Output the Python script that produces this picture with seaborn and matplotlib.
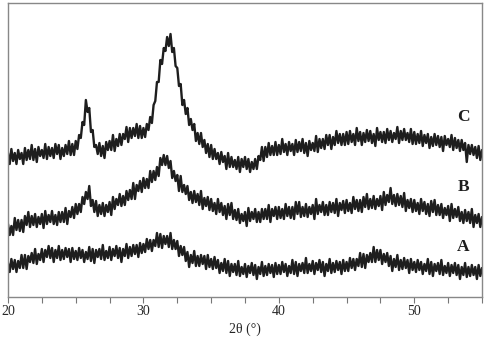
import numpy as np
import pandas as pd
import matplotlib
matplotlib.use("Agg")
import matplotlib.pyplot as plt
import seaborn as sns

# Intensities (arbitrary units, traces offset) read at 20.00, 20.25, ..., 55.00 deg
C = [144,148,144,147,144,149,147,152,148,150,147,153,150,149,153,152,149,152,156,153,
     156,162,175,197,189,167,152,154,151,155,156,162,158,163,163,170,169,169,173,171,
     169,173,180,192,215,237,249,260,263,249,229,213,197,189,178,173,164,164,157,153,
     152,148,144,145,141,144,140,137,140,138,140,138,135,138,141,150,150,154,151,155,
     152,158,153,155,153,157,155,158,154,156,154,161,158,158,162,162,160,166,163,163,
     165,166,163,169,165,164,167,166,163,169,165,165,168,166,164,170,166,168,164,168,
     165,163,166,162,163,160,163,161,160,161,158,162,159,157,157,154,152,152,150,151,
     147]
B = [73,71,79,77,77,81,85,81,83,80,83,86,82,86,82,85,85,89,86,90,
     93,93,100,105,111,97,96,92,94,92,95,100,98,103,101,106,107,114,112,116,
     119,118,126,126,130,139,142,141,136,126,122,121,112,111,105,106,103,106,99,100,
     98,94,98,94,91,93,94,87,88,83,85,89,85,88,85,88,88,92,88,90,
     90,88,93,90,90,95,95,90,93,90,92,98,92,95,92,95,94,98,94,96,
     97,94,100,97,97,100,103,98,101,98,101,105,102,109,102,103,101,104,97,98,
     97,94,98,95,93,96,97,92,93,89,91,93,88,90,85,87,85,88,82,83,
     80]
A = [34,38,37,36,42,42,41,44,48,43,48,47,51,49,47,51,47,49,48,49,
     46,49,47,45,50,48,47,48,52,46,50,48,51,49,48,53,50,52,52,54,
     53,58,57,57,64,63,61,61,64,57,56,51,50,45,42,46,41,42,41,42,
     38,40,37,34,38,36,33,33,36,30,33,31,34,32,30,35,31,33,32,34,
     32,35,33,31,37,35,33,34,39,33,36,34,37,35,33,38,34,36,35,37,
     35,39,38,38,44,43,42,44,50,47,47,43,44,41,38,42,37,39,37,38,
     35,37,35,33,38,35,33,34,37,31,34,32,34,32,30,34,30,32,30,32,
     29]
# ... and at the in-between angles 20.125, 20.375, ..., 54.875 deg
C_mid = [133,136,133,138,133,137,138,137,135,141,139,138,141,139,143,138,141,143,142,142,
         148,159,172,185,165,150,143,141,139,147,147,146,151,152,158,155,159,161,159,159,
         160,167,174,196,215,233,246,251,245,231,211,192,183,172,167,156,153,150,144,140,
         138,138,133,135,128,130,130,128,125,130,128,125,128,128,137,136,140,142,142,142,
         143,145,142,146,142,145,146,144,141,147,146,145,149,148,152,148,152,154,152,152,
         153,155,152,156,152,155,156,154,151,157,155,154,157,155,158,154,157,157,155,153,
         153,154,151,154,149,151,152,150,146,152,150,147,149,146,147,135,143,142,139,137]
B_mid = [62,62,67,66,65,72,70,72,70,73,69,73,75,73,72,75,75,73,80,79,
         83,85,93,98,91,85,81,83,81,85,82,88,92,91,92,97,98,98,106,105,
         109,109,115,117,121,132,132,129,119,116,106,105,103,97,94,95,92,88,91,87,
         86,83,85,82,78,82,78,77,74,76,71,76,78,75,75,78,78,75,81,78,
         79,78,81,79,78,83,80,81,80,83,78,83,85,82,82,85,84,81,87,84,
         86,84,88,86,85,90,88,89,88,91,87,92,95,93,91,92,90,86,89,85,
         86,83,86,83,81,85,82,82,79,82,76,79,80,76,74,76,74,70,74,70]
A_mid = [25,28,25,29,29,28,35,34,33,37,35,40,39,35,39,37,38,40,35,38,
         37,39,35,38,36,34,40,38,37,39,37,41,39,35,41,39,41,43,40,44,
         45,48,46,51,50,49,53,50,48,48,41,42,36,30,34,31,31,33,28,30,
         28,29,24,26,24,21,25,22,21,23,20,24,22,18,23,21,22,24,20,23,
         23,25,21,24,23,21,26,24,24,26,23,27,25,21,26,24,25,27,23,26,
         26,29,27,31,30,29,35,35,35,37,33,35,31,26,30,27,28,29,24,27,
         25,27,23,26,23,21,26,23,22,24,21,24,22,18,22,20,21,22,18,21]
series_names = ["C", "B", "A"]
series_values = [C, B, A]
series_mid = [C_mid, B_mid, A_mid]
tick_values = [20, 30, 40, 50]

frames = []
for name, vals, mids in zip(series_names, series_values, series_mid):
    th = 20 + 0.25 * np.arange(len(vals))
    thm = 20.125 + 0.25 * np.arange(len(mids))
    frames.append(pd.DataFrame({"theta": np.concatenate([th, thm]),
                                "I": list(vals) + list(mids), "s": name}))
df = pd.concat(frames, ignore_index=True).sort_values(["s", "theta"])

sns.set_style("white")
plt.rcParams["font.family"] = ["Liberation Serif", "DejaVu Serif"]

fig = plt.figure(figsize=(4.86, 3.42), dpi=100)
ax = fig.add_axes([8/486, 1 - 297/342, 474/486, 294/342])
sns.lineplot(data=df, x="theta", y="I", hue="s", units="s", estimator=None,
             palette={"C": "#1e1e1e", "B": "#1e1e1e", "A": "#1e1e1e"},
             linewidth=1.7, legend=False, ax=ax)
ax.set_xlim(20, 55)
ax.set_ylim(0, 294)
ax.set_yticks([])
allticks = np.arange(20, 55.01, 2.5)
ax.set_xticks(allticks)
ax.set_xticklabels([str(int(t)) if t in tick_values else "" for t in allticks], fontsize=10)
ax.tick_params(axis="x", direction="out", length=4, width=0.8, color="#777777", pad=2, bottom=True)
for sp in ax.spines.values():
    sp.set_color("#888888")
    sp.set_linewidth(1.0)
ax.set_xlabel("2θ (°)", fontsize=10, labelpad=3)
ax.set_ylabel("")

label_pos = {"C": 180, "B": 110, "A": 50}
for name in series_names:
    ax.text(53.6, label_pos[name], name, fontsize=12.5, fontweight="bold",
            ha="center", va="center", color="#1e1e1e")

fig.savefig("out.png", dpi=100)
